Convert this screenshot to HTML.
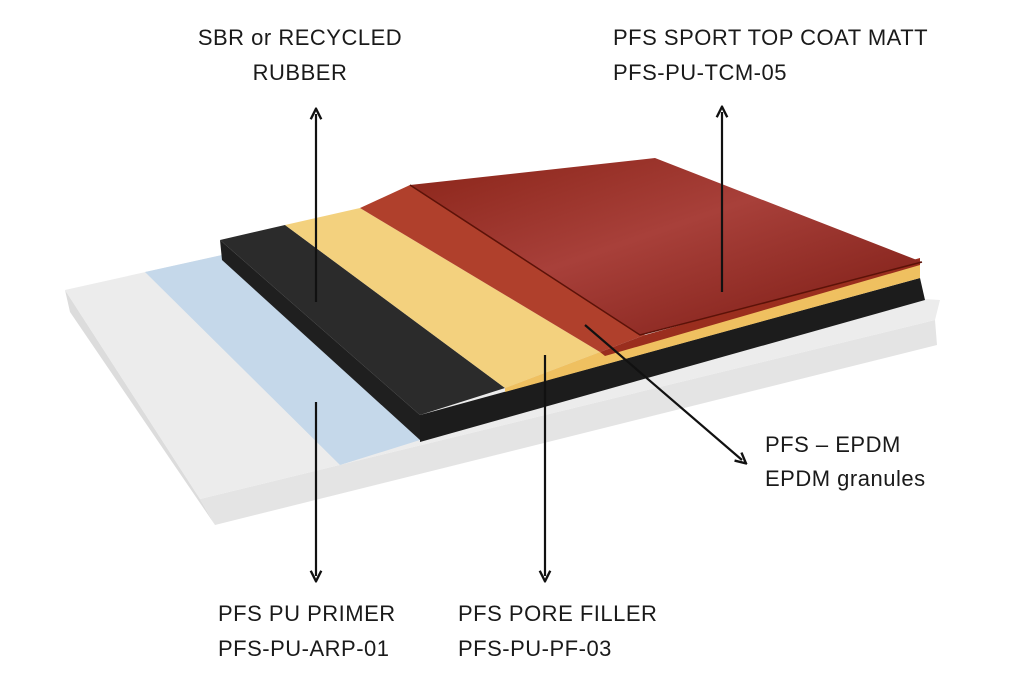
<!DOCTYPE html>
<html><head><meta charset="utf-8"><style>
html,body{margin:0;padding:0;background:#fff;}
svg{display:block}
text{font-family:"Liberation Sans",sans-serif;font-size:22px;fill:#1a1a1a;letter-spacing:0.5px}
</style></head><body>
<svg width="1024" height="687" viewBox="0 0 1024 687" xmlns="http://www.w3.org/2000/svg">
<defs>
<linearGradient id="tc" x1="0" y1="0" x2="1" y2="1">
<stop offset="0" stop-color="#8a2418"/><stop offset="0.45" stop-color="#a8403a"/><stop offset="1" stop-color="#7a1a12"/>
</linearGradient>
<marker id="ah" viewBox="0 0 10 10" refX="5" refY="5" markerWidth="6" markerHeight="6" orient="auto-start-reverse">
<path d="M1,1 L9,5 L1,9" fill="none" stroke="#111" stroke-width="1.8"/>
</marker>
</defs>
<!-- slab -->
<polygon points="65,290 200,499 215,525 70,312" fill="#dcdcdc"/>
<polygon points="200,499 935,320 937,345 215,525" fill="#e4e4e4"/>
<polygon points="65,290 222,255 940,300 935,320 200,499" fill="#ececec"/>
<!-- blue primer -->
<polygon points="145,272 222,255 420,440 340,465" fill="#c5d8ea"/>
<!-- rubber -->
<polygon points="220,240 420,415 420,440 222,260" fill="#1f1f1f"/>
<polygon points="420,415 920,278 925,300 420,442" fill="#1c1c1c"/>
<polygon points="220,240 285,225 505,388 420,415" fill="#2b2b2b"/>
<!-- yellow -->
<polygon points="285,225 360,208 600,352 505,388" fill="#f3d17e"/>
<polygon points="505,388 600,352 920,262 920,278 505,392" fill="#efc060"/>
<!-- EPDM -->
<polygon points="360,208 410,185 645,335 600,352" fill="#b0402c"/>
<polygon points="600,352 645,335 920,258 920,265 605,356" fill="#9a2e1e"/>
<!-- top coat -->
<polygon points="410,185 655,158 922,262 640,335" fill="url(#tc)"/>
<polyline points="410,185 640,335 922,262" fill="none" stroke="#5c1208" stroke-width="1.5"/>
<!-- arrows -->
<line x1="316" y1="114" x2="316" y2="302" stroke="#111" stroke-width="2.2" marker-start="url(#ah)"/>
<line x1="722" y1="112" x2="722" y2="292" stroke="#111" stroke-width="2.2" marker-start="url(#ah)"/>
<line x1="316" y1="402" x2="316" y2="576" stroke="#111" stroke-width="2.2" marker-end="url(#ah)"/>
<line x1="545" y1="355" x2="545" y2="576" stroke="#111" stroke-width="2.2" marker-end="url(#ah)"/>
<line x1="585" y1="325" x2="742" y2="460" stroke="#111" stroke-width="2.2" marker-end="url(#ah)"/>
<!-- labels -->
<text x="300" y="45" text-anchor="middle">SBR or RECYCLED</text>
<text x="300" y="80" text-anchor="middle">RUBBER</text>
<text x="613" y="45">PFS SPORT TOP COAT MATT</text>
<text x="613" y="80">PFS-PU-TCM-05</text>
<text x="765" y="452">PFS – EPDM</text>
<text x="765" y="486">EPDM granules</text>
<text x="218" y="621">PFS PU PRIMER</text>
<text x="218" y="656">PFS-PU-ARP-01</text>
<text x="458" y="621">PFS PORE FILLER</text>
<text x="458" y="656">PFS-PU-PF-03</text>
</svg>
</body></html>
